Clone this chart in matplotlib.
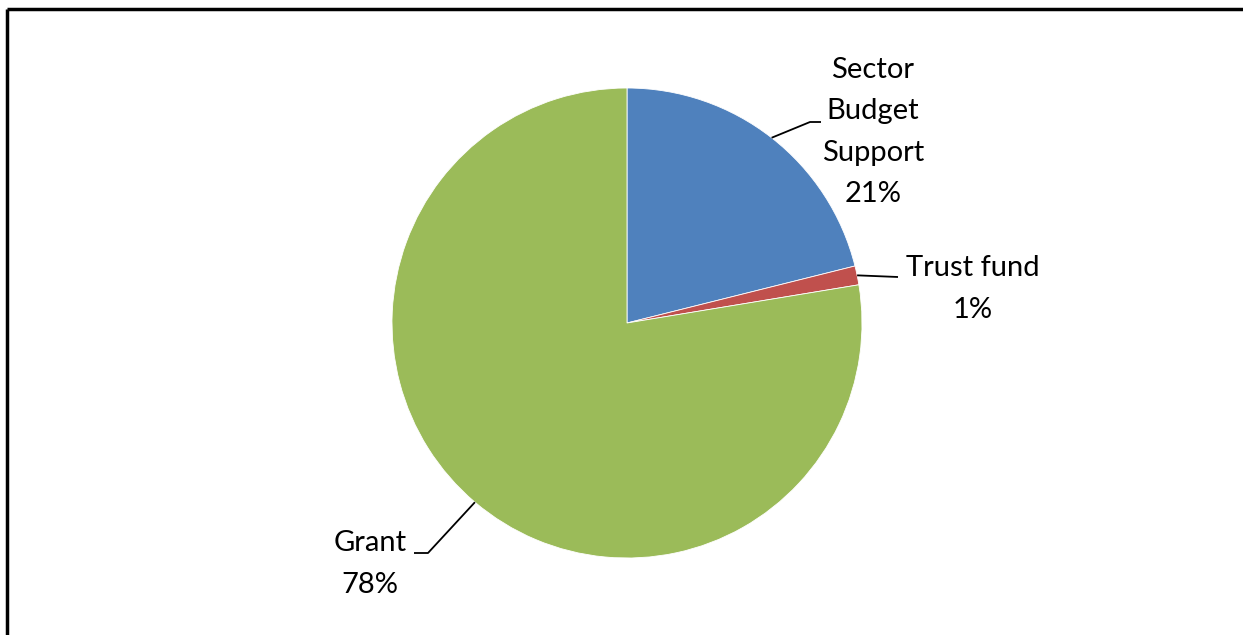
import numpy as np
import matplotlib
matplotlib.use("Agg")
import matplotlib.pyplot as plt

# Funding sources and their shares (%)
categories = ["Sector\nBudget\nSupport", "Trust fund", "Grant"]
shares = [21.1, 1.3, 77.6]
colors = ["#4F81BD", "#C0504D", "#9BBB59"]

W, H = 1243, 635
fig = plt.figure(figsize=(W / 100, H / 100), dpi=100)
ax = fig.add_axes([0, 0, 1, 1])

cx, cy, r = 627, H - 323, 235
wedges, _ = ax.pie(shares, colors=colors, startangle=90, counterclock=False,
                   center=(cx, cy), radius=r,
                   wedgeprops=dict(edgecolor="white", linewidth=0.6))
ax.set_xlim(0, W)
ax.set_ylim(0, H)
ax.set_aspect("auto")
ax.axis("off")

# label text anchor points (figure pixels, y measured from top) and leader elbows
label_pos = [(873, 132), (973, 289), (370, 564)]
elbow = [[(810, 122), (821, 122)], [(898, 277)], [(428, 553), (414, 553)]]

font = dict(family=["Lato", "DejaVu Sans"], size=21, color="black")
for w, cat, val, (tx, ty), elb in zip(wedges, categories, shares, label_pos, elbow):
    mid = np.deg2rad((w.theta1 + w.theta2) / 2)
    px, py = cx + r * np.cos(mid), cy + r * np.sin(mid)
    xs = [px] + [e[0] for e in elb]
    ys = [py] + [H - e[1] for e in elb]
    ax.plot(xs, ys, color="black", lw=1.3, solid_capstyle="butt")
    ax.text(tx, H - ty, f"{cat}\n{val:.0f}%", ha="center", va="center",
            linespacing=1.74, **font)

# chart frame: top and left edges
ax.plot([7, W], [H - 9, H - 9], color="black", lw=2.5, solid_capstyle="butt")
ax.plot([7, 7], [0, H - 9], color="black", lw=2.5, solid_capstyle="butt")

fig.savefig("out.png", dpi=100, facecolor="white")
